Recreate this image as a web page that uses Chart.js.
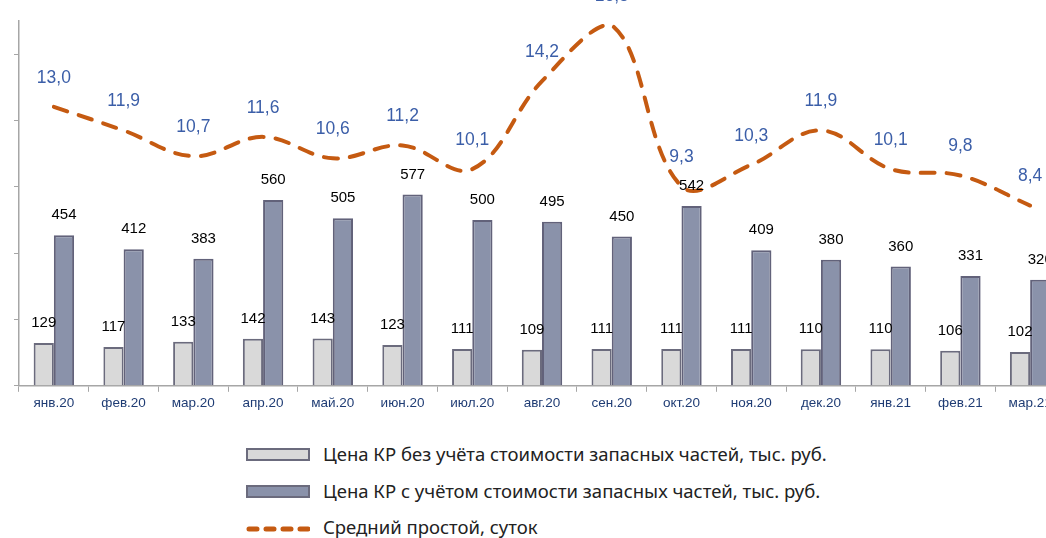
<!DOCTYPE html>
<html>
<head>
<meta charset="utf-8">
<script src="https://cdn.jsdelivr.net/npm/chart.js@4/dist/chart.umd.min.js"></script>
<style>
  html, body { margin: 0; padding: 0; background: #fff; overflow: hidden; }
  body { width: 1046px; height: 538px; position: relative; }
  #wrap { position: absolute; left: 0; top: -40px; width: 1070px; height: 454px; }
  .legend { position: absolute; left: 246px; font-family: "Noto Sans", sans-serif; font-size: 18.5px; color: #222; }
  .legend .row { position: absolute; left: 0; white-space: nowrap; height: 20px; line-height: 20px; }
  .legend .sw { position: absolute; left: 0; top: 3px; width: 64px; height: 13px; box-sizing: border-box; border: 2px solid #6b6b7d; }
  .legend .txt { position: absolute; left: 77px; top: -1px; }
</style>
</head>
<body>
<div id="wrap"><canvas id="mainChart"></canvas></div>
<div class="legend">
  <div class="row" style="top:445px"><div class="sw" style="background:#d9d9d9"></div><div class="txt">Цена КР без учёта стоимости запасных частей, тыс. руб.</div></div>
  <div class="row" style="top:482px"><div class="sw" style="background:#8a92aa"></div><div class="txt">Цена КР с учётом стоимости запасных частей, тыс. руб.</div></div>
  <div class="row" style="top:518px"><canvas id="dashSw" width="64" height="20" style="position:absolute;left:0;top:0"></canvas><div class="txt">Средний простой, суток</div></div>
</div>
<script>
const months = ['янв.20', 'фев.20', 'мар.20', 'апр.20', 'май.20', 'июн.20', 'июл.20', 'авг.20', 'сен.20', 'окт.20', 'ноя.20', 'дек.20', 'янв.21', 'фев.21', 'мар.21'];
const priceNoParts = [129, 117, 133, 142, 143, 123, 111, 109, 111, 111, 111, 110, 110, 106, 102];
const priceWithParts = [454, 412, 383, 560, 505, 577, 500, 495, 450, 542, 409, 380, 360, 331, 320];
const downtimeDays = [13.0, 11.9, 10.7, 11.6, 10.6, 11.2, 10.1, 14.2, 16.8, 9.3, 10.3, 11.9, 10.1, 9.8, 8.4];

const lineColor = '#c55a11';

// dashed swatch for the legend
(function () {
  const c = document.getElementById('dashSw').getContext('2d');
  c.strokeStyle = lineColor;
  c.lineWidth = 5;
  c.lineCap = 'round';
  c.setLineDash([8, 9]);
  c.beginPath();
  c.moveTo(3, 11);
  c.lineTo(62, 11);
  c.stroke();
})();

const valueLabels = {
  id: 'valueLabels',
  afterDatasetsDraw(chart) {
    const ctx = chart.ctx;
    ctx.save();
    ctx.textAlign = 'center';
    ctx.textBaseline = 'middle';
    chart.data.datasets.forEach((ds, i) => {
      const meta = chart.getDatasetMeta(i);
      meta.data.forEach((el, j) => {
        const v = ds.data[j];
        if (ds.type === 'line') {
          ctx.font = '17.5px "Liberation Sans", Arial, sans-serif';
          ctx.fillStyle = '#3b5ea8';
          ctx.fillText(v.toFixed(1).replace('.', ','), el.x, el.y - 29);
        } else {
          ctx.font = '15px "Liberation Sans", Arial, sans-serif';
          ctx.fillStyle = '#000';
          ctx.fillText(String(v), el.x, el.y - 20);
        }
      });
    });
    ctx.restore();
  }
};

const ctx = document.getElementById('mainChart').getContext('2d');
const chart = new Chart(ctx, {
  data: {
    labels: months,
    datasets: [
      {
        type: 'line',
        label: 'Средний простой, суток',
        data: downtimeDays,
        yAxisID: 'y1',
        borderColor: lineColor,
        borderWidth: 4,
        borderDash: [14, 12],
        borderCapStyle: 'round',
        tension: 0.38,
        pointRadius: 0,
        fill: false,
        clip: false,
        order: 0
      },
      {
        type: 'bar',
        label: 'Цена КР без учёта стоимости запасных частей, тыс. руб.',
        data: priceNoParts,
        backgroundColor: '#d9d9d9',
        borderColor: '#6b6b7d',
        borderWidth: 2,
        categoryPercentage: 0.58,
        barPercentage: 1,
        order: 1
      },
      {
        type: 'bar',
        label: 'Цена КР с учётом стоимости запасных частей, тыс. руб.',
        data: priceWithParts,
        backgroundColor: '#8a92aa',
        borderColor: '#62627a',
        borderWidth: 2,
        categoryPercentage: 0.58,
        barPercentage: 1,
        order: 1
      }
    ]
  },
  options: {
    responsive: true,
    maintainAspectRatio: false,
    animation: false,
    layout: { padding: { left: 14, right: 5, top: 61, bottom: 0 } },
    plugins: {
      legend: { display: false },
      tooltip: { enabled: false }
    },
    scales: {
      x: {
        offset: true,
        grid: { offset: true, drawOnChartArea: false, tickLength: 6, color: '#a6a6a6' },
        border: { color: '#a6a6a6', width: 1.5 },
        ticks: {
          color: '#1f3c74',
          font: { family: '"Liberation Sans", Arial, sans-serif', size: 13.5 },
          padding: 3,
          maxRotation: 0,
          autoSkip: false
        }
      },
      y: {
        min: 0,
        max: 1100,
        afterBuildTicks: axis => { axis.ticks = axis.ticks.filter(t => t.value % 200 === 0); },
        ticks: { display: false, stepSize: 200 },
        grid: { drawOnChartArea: false, tickLength: 5, color: '#a6a6a6' },
        border: { color: '#a6a6a6', width: 1.5 }
      },
      y1: {
        display: false,
        min: 0,
        max: 17
      }
    }
  },
  plugins: [valueLabels]
});
</script>
</body>
</html>
